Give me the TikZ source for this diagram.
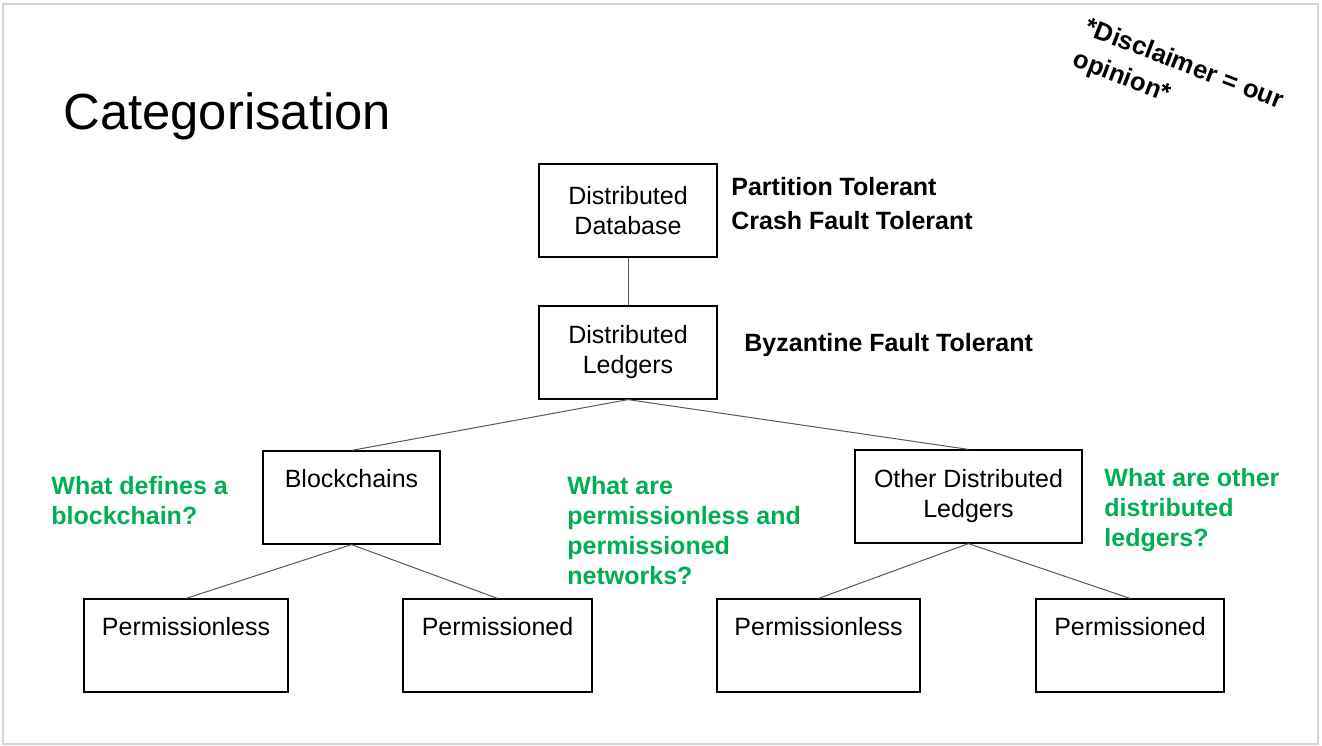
\documentclass[tikz,border=0pt]{standalone}
\usepackage{fontspec}
\setmainfont{Liberation Sans}
\usepackage{tikz}
\definecolor{qgreen}{HTML}{00B050}
\definecolor{edgegray}{HTML}{595959}
\definecolor{slideborder}{HTML}{D6D6D6}
\tikzstyle{box}=[draw=black, line width=0.6pt, rectangle, minimum height=46.5pt, align=center, font=\fontsize{12.5}{15}\selectfont, inner sep=0pt]
\tikzstyle{edge} = [draw, edgegray, line width=0.5pt, -]
\tikzstyle{note} = [anchor=west, align=left, inner sep=0pt, font=\fontsize{12.5}{15}\selectfont\bfseries]
\tikzstyle{question} = [note, text=qgreen]

\begin{document}
\begin{tikzpicture}[x=0.5pt, y=-0.5pt]
    \fill[white] (0,0) rectangle (1322,745);
    \useasboundingbox (0,0) rectangle (1322,745);
    \draw[slideborder, line width=0.8pt] (3,4) rectangle (1318,744);

    % Title and disclaimer
    \node[anchor=west, inner sep=0pt, font=\fontsize{25.4}{30}\selectfont] (title) at (63,116) {Categorisation};
    \node[rotate=-21, anchor=north west, align=left, inner sep=0pt, font=\fontsize{12.8}{17}\selectfont\bfseries] (disclaimer) at (1090,16) {*Disclaimer = our\\opinion*};

    % Boxes of the tree
    \foreach \pos/\boxw/\name/\txt in {
                            {(628,210.5)/89/ddb/Distributed\\Database},
                            {(628,352.5)/89/dl/Distributed\\Ledgers},
                            {(351.5,497.5)/88.5/bc/Blockchains\\\strut},
                            {(968.5,496.5)/113.5/odl/Other Distributed\\Ledgers},
                            {(186,645.5)/102/bcless/Permissionless\\\strut},
                            {(497.5,645.5)/94.5/bced/Permissioned\\\strut},
                            {(818.5,645.5)/101.5/odlless/Permissionless\\\strut},
                            {(1130,645.5)/94/odled/Permissioned\\\strut}}
        \node[box, minimum width=\boxw pt] (\name) at \pos {\txt};

    % Connect boxes with edges
    \foreach \source/ \dest in {ddb/dl, dl/bc, dl/odl, bc/bcless, bc/bced, odl/odlless, odl/odled}
        \path[edge] (\source.south) -- (\dest.north);

    % Properties and questions
    \node[note] (ptcft) at (731,204) {Partition Tolerant\\[2pt]Crash Fault Tolerant};
    \node[note] (bft) at (744,345) {Byzantine Fault Tolerant};
    \node[question] (qbc) at (51,501) {What defines a\\blockchain?};
    \node[question] (qperm) at (567,531) {What are\\permissionless and\\permissioned\\networks?};
    \node[question] (qodl) at (1104,510) {What are other\\distributed\\ledgers?};

\end{tikzpicture}
\end{document}
